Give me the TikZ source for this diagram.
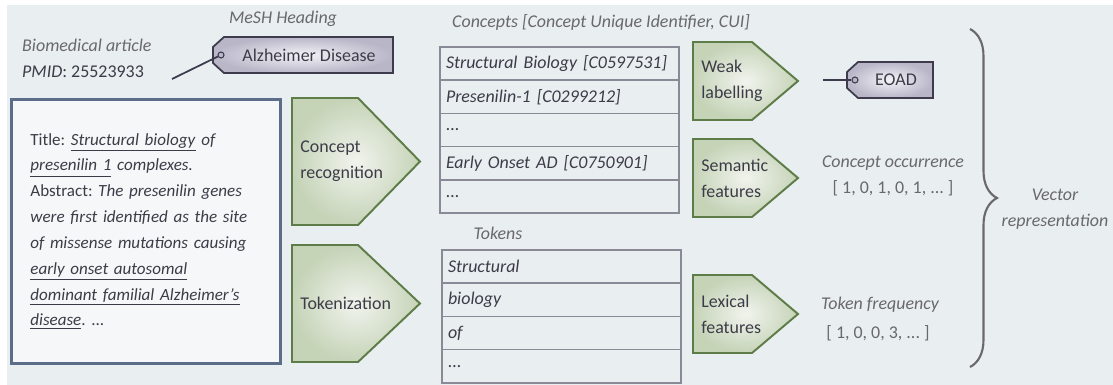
\documentclass[tikz,border=0pt]{standalone}
\usepackage{fontspec}
\setmainfont{Carlito}
\usetikzlibrary{positioning,decorations.pathreplacing}
\definecolor{bg}{HTML}{E9EEF0}
\definecolor{ink}{HTML}{3C3C48}
\definecolor{lbl}{HTML}{68686E}
\definecolor{leaf}{HTML}{5E7C48}
\definecolor{leafin}{HTML}{F1F4EE}
\definecolor{leafout}{HTML}{C5D3B7}
\definecolor{slate}{HTML}{5B6D88}
\definecolor{cellline}{HTML}{8A8A96}
\definecolor{tagin}{HTML}{F4F3F7}
\definecolor{tagout}{HTML}{B9B6C8}
\definecolor{tagline}{HTML}{3E3B4C}
\frenchspacing

\newcommand{\txt}{\fontsize{10.2}{14.7}\selectfont}
% name, left, corner, tip, top, bottom, text
\newcommand{\pentbox}[7]{%
  \draw[chev] (#2,#5) -- (#3,#5) -- (#4,{(#5+#6)/2}) -- (#3,#6) -- (#2,#6) -- cycle;
  \node[chevtext] (#1) at (#2+8,{(#5+#6)/2}) {#7};}
% name, tip, right, top, bottom, text
\newcommand{\labeltag}[6]{%
  \draw[tagbox] (#2,{(#4+#5)/2-8}) -- (#2+11,#4) -- (#3,#4) -- (#3,#5) -- (#2+11,#5) -- (#2,{(#4+#5)/2+8}) -- cycle;
  \node[hole] (#1hole) at (#2+8,{(#4+#5)/2}) {};
  \node[tagtext] (#1) at ({(#2+#3)/2+6},{(#4+#5)/2}) {#6};}

\begin{document}
\begin{tikzpicture}[x=0.02cm,y=-0.02cm,
    chev/.style={draw=leaf,line width=1.1pt,inner color=leafin,outer color=leafout},
    chevtext/.style={anchor=west,inner sep=0pt,align=left,text=ink,font=\txt},
    tagbox/.style={draw=tagline,line width=1pt,inner color=tagin,outer color=tagout},
    hole/.style={circle,draw=tagline,fill=tagout,line width=0.6pt,inner sep=0pt,minimum size=0.12cm},
    tagtext/.style={text=ink,font=\txt},
    note/.style={text=lbl,font=\txt\itshape},
    artbox/.style={draw=slate,line width=1.6pt,fill=white!55!bg,minimum width=5.38cm,minimum height=5.28cm,
      text width=4.62cm,align=left,inner xsep=0.38cm,inner ysep=0.3cm,text=ink,
      font=\fontsize{9.7}{14.7}\selectfont},
    cell/.style={draw=cellline,line width=0.9pt,minimum height=0.664cm,text width=4.54cm,inner xsep=0.12cm,
      inner ysep=0pt,outer sep=0pt,align=left,text=ink,font=\txt\itshape},
    string/.style={draw=tagline,line width=1pt},
    node distance=0pt]
  \fill[white] (0,0) rectangle (1113,385);
  \fill[bg] (7,5) rectangle (1113,385);
  \useasboundingbox (0,0) rectangle (1113,385);

  % article and its heading
  \node[note,anchor=west] (bio) at (16,45) {Biomedical article};
  \node[anchor=west,text=ink,font=\txt] (pmid) at (16,72) {\textit{PMID}: 25523933};
  \node[note] (mesh) at (283,19) {MeSH Heading};
  \labeltag{alz}{213}{393}{37}{73}{Alzheimer Disease}
  \coordinate (pin) at (172,79);
  \draw[string] (pin) -- (alzhole);

  \node[artbox,anchor=north west] (article) at (10,98) {Title: \underline{\textit{Structural biology}} \textit{of}\\
    \underline{\textit{presenilin 1}} \textit{complexes.}\\
    Abstract: \textit{The presenilin genes}\\
    \textit{were first identified as the site}\\
    \textit{of missense mutations causing}\\
    \underline{\textit{early onset autosomal}}\\
    \underline{\textit{dominant familial Alzheimer's}}\\
    \underline{\textit{disease}}. ...};

  \pentbox{recog}{292}{358}{420}{98}{225}{Concept\\recognition}
  \pentbox{token}{292}{358}{420}{245}{362}{Tokenization}

  % concept table
  \node[note,anchor=west] (cpthead) at (446,22) {Concepts [Concept Unique Identifier, CUI]};
  \node[cell,anchor=north west] (cpt1) at (440,47) {Structural Biology [C0597531]};
  \node[cell,below=of cpt1] (cpt2) {Presenilin-1 [C0299212]};
  \node[cell,below=of cpt2] (cpt3) {...};
  \node[cell,below=of cpt3] (cpt4) {Early Onset AD [C0750901]};
  \node[cell,below=of cpt4] (cpt5) {...};

  % token table
  \node[note] (tokhead) at (498,233) {Tokens};
  \node[cell,anchor=north west] (tok1) at (442,250) {Structural};
  \node[cell,below=of tok1] (tok2) {biology};
  \node[cell,below=of tok2] (tok3) {of};
  \node[cell,below=of tok3] (tok4) {...};

  \pentbox{weak}{693}{752}{798}{42}{120}{Weak\\labelling}
  \pentbox{sem}{693}{752}{798}{139}{217}{Semantic\\features}
  \pentbox{lex}{693}{752}{798}{275}{353}{Lexical\\features}

  \labeltag{eoad}{847}{933}{62}{98}{EOAD}
  \coordinate (eoadpin) at (823,80);
  \draw[string] (eoadpin) -- (eoadhole);

  \node[note] (occ) at (893,163) {Concept occurrence};
  \node[text=lbl,font=\txt] (occvec) at (893,188) {[ 1, 0, 1, 0, 1, ... ]};
  \node[note] (freq) at (880,305) {Token frequency};
  \node[text=lbl,font=\txt] (freqvec) at (878,333) {[ 1, 0, 0, 3, ... ]};

  \coordinate (bracetop) at (970,29);
  \coordinate (bracebot) at (970,367);
  \draw[draw=lbl,line width=1.2pt,decorate,decoration={brace,amplitude=0.54cm}] (bracetop) -- (bracebot);
  \node[note,align=center] (vec) at (1055,209) {Vector\\representation};
\end{tikzpicture}
\end{document}
